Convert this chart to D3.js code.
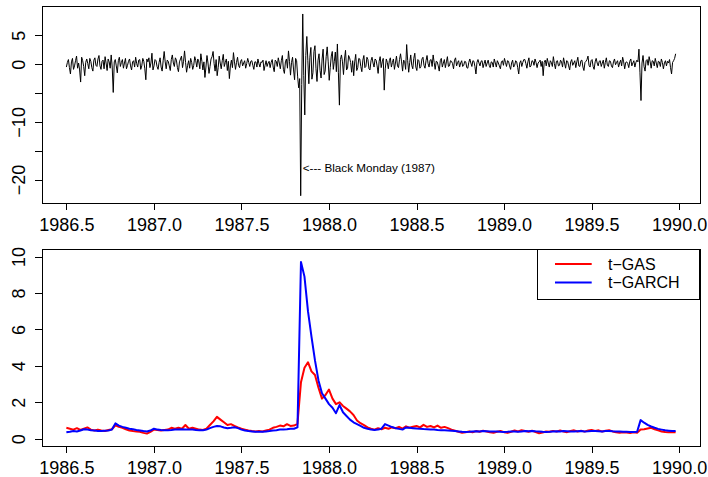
<!DOCTYPE html>
<html lang="en">
<head>
<meta charset="UTF-8">
<title>Returns and filtered volatility</title>
<style>
  body { margin: 0; background: #fff; }
  svg { display: block; font-family: "Liberation Sans", Arial, sans-serif; }
  .box { fill: none; stroke: #000; stroke-width: 1; shape-rendering: crispEdges; }
  .axis line { stroke: #000; shape-rendering: crispEdges; }
  .axis text { fill: #000; }
</style>
</head>
<body>
<svg id="chart" width="708" height="477"></svg>
<script src="https://d3js.org/d3.v7.min.js"></script>
<script>
// sample covers 1986.5 .. 1989.98, values evenly spaced in time
const startYear = 1986.5;
const endYear = 1989.98;

const yearTicks = [1986.5, 1987.0, 1987.5, 1988.0, 1988.5, 1989.0, 1989.5, 1990.0];
const yearLabels = ["1986.5", "1987.0", "1987.5", "1988.0", "1988.5", "1989.0", "1989.5", "1990.0"];
const returnTicks = [-20, -15, -10, -5, 0, 5];
const returnLabels = ["\u221220", "", "\u221210", "", "0", "5"];
const volTicks = [0, 2, 4, 6, 8, 10];
const volLimits = [0, 10];
const seriesNames = ["t\u2212GAS", "t\u2212GARCH"];
const seriesColors = ["#ff0000", "#0000ff"];

// daily returns (%)
const returns = [
  -0.5, 0.3, 0.8, -0.6, -1.7, 0.4, 1.0, -0.9, -0.3, 0.6, 1.4, -0.7, 0.2, -1.0, -3.1, 1.2, 0.6, -0.4, -2.0, 0.3, 0.9, 0.1, -0.8, 1.0, 0.5,
  -0.6, -1.2, 0.7, 1.1, -0.2, -0.4, 0.9, 1.5, -0.3, -0.9, 0.5, 0.7, -0.8, 1.3, 0.2, -1.1, 0.9, 0.4, -0.7, 1.6, -0.5, -4.9, 0.4, 0.8, -0.3,
  -1.5, 0.6, 1.2, -0.4, 0.3, 0.8, -0.7, 0.2, 1.0, -0.8, -0.2, 0.5, 0.9, -0.3, -1.0, 0.4, 0.6, -0.5, 1.2, 0.1, -0.5, 0.7, 0.8, -0.9, -0.3,
  1.0, 0.5, -0.8, -2.7, 0.9, 0.4, 1.1, -0.6, 0.2, 1.9, -1.0, -0.3, 0.8, 0.6, -0.4, -0.9, 0.3, 1.1, -0.5, -1.2, 0.6, 2.2, 0.4, -0.8, 0.7,
  0.5, -0.3, -1.1, 0.8, 1.6, 0.2, -0.4, 1.1, 0.7, -0.6, -1.3, 0.4, 0.9, 1.4, -0.6, 0.5, 2.3, 0.3, -1.4, -0.2, 0.6, -0.7, 1.0, 0.3, -0.9,
  -0.2, 1.3, 0.6, -0.5, 0.9, 0.4, -0.8, 1.8, 0.5, -1.0, 0.4, -2.3, -0.5, 1.5, 0.2, -1.6, -0.4, 0.9, 1.3, 2.2, 0.1, -1.2, 0.8, -2.0, -0.6,
  1.4, 0.2, -0.8, 0.6, 1.7, -0.4, 0.3, 0.9, -1.1, 0.5, -2.5, -0.3, 0.7, -0.6, 2.0, 0.4, -0.9, 0.3, 1.2, -0.2, -0.6, 0.5, 0.8, -0.3, 0.2,
  0.6, -0.7, 0.1, 1.0, 0.3, -0.4, 0.5, 0.6, -0.2, -0.9, 0.4, 0.4, -0.5, 0.9, 0.1, -0.5, 0.4, 0.3, 0.7, -1.1, -0.2, 0.6, -0.4, 0.2, 0.5,
  -0.6, 0.3, 0.8, -0.5, -1.3, 0.7, 0.5, -0.4, 1.1, 0.2, -0.8, 0.6, 1.5, -0.9, -1.6, 0.4, 0.9, -0.7, 2.3, 0.5, -1.9, 0.3, 1.2, -1.0, -2.7,
  1.0, 0.6, -2.2, -4.1, -2.5, -22.8, -3.5, 8.7, -2.0, -8.8, 1.5, 4.8, 0.6, -3.4, 1.2, 2.9, -2.6, -1.5, 2.2, 3.2, -0.8, -3.0, 0.7, 1.8, -1.1,
  -2.4, 0.9, 2.6, -1.8, -1.2, 1.3, 3.0, 0.4, -2.8, -0.6, 1.4, 2.2, -0.9, 0.5, 2.1, -1.3, 3.5, -1.5, -7.1, 0.8, 1.6, 0.4, -1.8, 0.9, 2.4,
  -1.0, -0.7, 1.5, 1.1, 0.3, -1.4, 0.6, -2.0, 0.4, 1.7, -1.1, -0.6, 1.0, 0.9, -0.4, -1.3, 0.7, 1.5, -0.6, -0.4, 1.2, 0.8, -0.8, -1.0, 0.6,
  1.2, 0.2, -0.5, 0.9, 0.7, -0.3, -1.6, 0.5, 1.3, -0.6, 0.4, 1.0, -4.5, -0.8, 0.9, 0.3, -0.8, 0.6, 1.1, -0.5, 0.3, 0.9, -0.9, 0.2, 1.4,
  -0.3, -0.6, 0.8, 1.8, 0.4, -1.2, 0.7, 0.5, -0.9, 3.4, 0.6, -1.4, 0.3, 1.6, -0.2, -0.8, 1.0, 1.9, -0.5, -1.1, 0.8, 0.6, -0.7, -0.4, 0.9,
  1.2, -0.2, -0.7, 0.6, 1.5, 0.1, -0.5, 0.7, 0.8, -0.4, 1.6, 0.3, -0.9, 0.5, 0.4, -0.3, -1.2, 0.6, 1.0, -0.5, 0.2, 0.8, -0.6, 0.4, 1.3,
  -0.4, -0.3, 0.6, 0.5, 0.1, -0.8, 0.7, 1.1, -0.3, 0.3, 0.6, -0.5, 0.2, 0.6, -0.4, -0.2, 0.5, 0.4, -0.6, -0.7, 0.3, 0.9, 0.2, -0.4, 0.6,
  0.5, -0.4, -1.7, 0.3, 0.8, 0.2, -0.3, 0.5, 0.6, -0.6, 0.1, 0.7, -0.4, 0.2, 0.7, -0.2, -0.6, 0.4, 0.3, -0.5, 0.9, 0.2, -0.5, 0.6, 0.2,
  -0.3, -0.8, 0.4, 0.6, -0.2, 1.0, 0.3, -0.4, 0.6, 0.5, -0.3, -0.9, 0.2, 0.7, -0.5, -0.2, 0.6, 0.4, -0.6, -1.7, 0.2, 0.6, -0.4, 0.3, 0.8,
  0.8, 0.1, -0.7, 0.4, 1.1, -0.5, -0.3, 0.6, 0.5, -0.2, 0.9, 0.3, -0.6, 0.2, 0.4, 0.7, -0.4, 0.5, -2.0, 0.3, 0.7, -0.3, 1.0, 0.2, -0.5,
  0.6, 0.3, -0.4, 1.3, 0.1, -0.8, 0.5, 0.6, -0.3, -0.2, 0.7, 0.4, -0.5, 1.1, 0.2, -0.7, 0.6, 0.5, -0.3, -1.0, 0.4, 0.8, -0.2, 0.2, 0.6,
  -0.6, 0.4, 1.2, -0.3, -0.4, 0.6, 0.7, -0.5, -1.1, 0.3, 0.5, 0.8, 1.4, -0.2, -0.5, 0.6, 0.8, -0.4, -0.9, 0.4, 1.0, 0.2, -0.3, 0.5, 0.6,
  -0.4, 0.2, 0.7, -0.7, 0.3, 1.1, -0.2, -0.4, 0.6, 0.5, -0.3, -0.6, 0.4, 0.9, -0.1, 0.3, 0.6, -0.5, 0.2, 0.7, -0.3, 1.2, 0.4, -0.8, 0.3,
  0.4, 0.1, -0.6, 0.5, 0.9, -0.3, 0.2, 0.6, -0.5, 0.3, 0.7, 0.4, 2.6, -1.5, -6.3, 0.2, 1.5, -0.4, -1.2, 0.6, 0.8, -0.2, 1.3, 0.4, -0.7,
  0.6, 0.5, -0.3, 1.0, 0.2, -0.6, 0.5, 0.4, -0.4, 0.9, 0.3, -0.8, 0.2, 0.6, -0.3, 0.5, 0.2, 0.8, -0.6, -1.7, 0.3, 0.6, 1.0, 1.8
];

// filtered volatility, t-GAS
const gasVol = [
  0.6, 0.55, 0.5, 0.58, 0.48, 0.55, 0.62, 0.5, 0.45, 0.5, 0.45, 0.42, 0.48, 0.52,
  0.74, 0.65, 0.6, 0.52, 0.45, 0.42, 0.4, 0.38, 0.32, 0.28, 0.38,
  0.5, 0.48, 0.45, 0.48, 0.5, 0.6, 0.55, 0.6, 0.55, 0.75, 0.55, 0.6, 0.55, 0.5, 0.48, 0.55,
  0.75, 0.95, 1.2, 1.05, 0.9, 0.75, 0.8, 0.7, 0.62, 0.55, 0.5, 0.45, 0.42, 0.4, 0.42, 0.4, 0.45, 0.5, 0.6, 0.65, 0.72, 0.68, 0.8, 0.7, 0.72, 0.82,
  3.1, 3.9, 4.2, 3.7, 3.5, 2.8, 2.2, 2.4, 2.7, 2.2, 1.9, 2.0, 1.8, 1.65, 1.5, 1.3, 1.0, 0.85, 0.75, 0.62,
  0.55, 0.5, 0.58, 0.52, 0.6, 0.55, 0.62, 0.58, 0.65, 0.55,
  0.68, 0.6, 0.66, 0.7, 0.62, 0.76, 0.65, 0.7, 0.62, 0.72,
  0.6, 0.65, 0.58, 0.5, 0.44, 0.38, 0.33, 0.36, 0.4, 0.35,
  0.42, 0.38, 0.44, 0.4, 0.36, 0.33, 0.38, 0.42, 0.36, 0.32,
  0.38, 0.45, 0.4, 0.47, 0.42, 0.38, 0.44, 0.36, 0.3, 0.34,
  0.4, 0.38, 0.43, 0.39, 0.45, 0.4, 0.36, 0.42, 0.46, 0.4,
  0.44, 0.39, 0.45, 0.48, 0.42, 0.46, 0.4, 0.44, 0.47, 0.4,
  0.36, 0.33, 0.36, 0.34, 0.32, 0.35, 0.33, 0.5, 0.52, 0.56,
  0.6, 0.52, 0.46, 0.4, 0.37, 0.35, 0.37, 0.36
];

// filtered volatility, t-GARCH
const garchVol = [
  0.35, 0.38, 0.42, 0.4, 0.45, 0.52, 0.5, 0.47, 0.45, 0.43, 0.42, 0.44, 0.45, 0.5,
  0.84, 0.72, 0.65, 0.6, 0.55, 0.52, 0.48, 0.45, 0.42, 0.4, 0.45,
  0.55, 0.5, 0.48, 0.47, 0.47, 0.48, 0.5, 0.5, 0.52, 0.5, 0.5, 0.5, 0.48, 0.47, 0.46, 0.5,
  0.58, 0.65, 0.7, 0.68, 0.62, 0.58, 0.6, 0.63, 0.58, 0.5, 0.45, 0.42, 0.4, 0.38, 0.38, 0.38, 0.4, 0.42, 0.45, 0.47, 0.5, 0.5, 0.52, 0.55, 0.55, 0.62,
  9.7, 8.9, 7.0, 5.6, 4.3, 3.2, 2.5, 2.2, 1.9, 1.7, 1.4, 1.85, 1.45, 1.25, 1.05, 0.9, 0.8, 0.7, 0.6, 0.55,
  0.5, 0.48, 0.5, 0.55, 0.8, 0.72, 0.64, 0.58, 0.54, 0.5,
  0.62, 0.6, 0.58, 0.56, 0.55, 0.53, 0.52, 0.5, 0.5, 0.48,
  0.47, 0.46, 0.45, 0.44, 0.42, 0.4, 0.38, 0.37, 0.38, 0.4,
  0.41, 0.4, 0.42, 0.41, 0.4, 0.39, 0.4, 0.38, 0.37, 0.38,
  0.4, 0.39, 0.38, 0.4, 0.42, 0.41, 0.43, 0.41, 0.4, 0.38,
  0.37, 0.38, 0.4, 0.41, 0.4, 0.42, 0.41, 0.4, 0.39, 0.41,
  0.42, 0.4, 0.41, 0.43, 0.42, 0.41, 0.4, 0.42, 0.43, 0.41,
  0.4, 0.39, 0.38, 0.38, 0.37, 0.37, 0.38, 1.02, 0.88, 0.76,
  0.67, 0.6, 0.54, 0.5, 0.46, 0.44, 0.42, 0.42
];

const svg = d3.select("#chart");
const fontSize = 18;

// R style axis limits: data range plus 4% on each side
function padded([a, b]) {
  const p = (b - a) * 0.04;
  return [a - p, b + p];
}
const timesFor = arr => arr.map((_, i) => startYear + i * (endYear - startYear) / (arr.length - 1));

const topBox = { left: 42, right: 700, top: 6.7, bottom: 203 };
const botBox = { left: 42, right: 700, top: 249.3, bottom: 446 };

const x = d3.scaleLinear().domain(padded([startYear, endYear])).range([topBox.left, topBox.right]);
const yTop = d3.scaleLinear().domain(padded(d3.extent(returns))).range([topBox.bottom, topBox.top]);
const yBot = d3.scaleLinear().domain(padded(volLimits)).range([botBox.bottom, botBox.top]);

function xAxis(box) {
  const g = svg.append("g")
    .attr("class", "axis")
    .attr("transform", `translate(0,${box.bottom})`)
    .call(d3.axisBottom(x).tickValues(yearTicks).tickFormat((d, i) => yearLabels[i]).tickSize(7).tickPadding(8.5));
  g.select(".domain").remove();
  g.append("line")
    .attr("x1", x(yearTicks[0])).attr("x2", x(yearTicks[yearTicks.length - 1]))
    .attr("stroke", "#000");
  g.attr("font-size", fontSize).attr("font-family", null);
}

function yAxis(box, scale, ticks, labels) {
  const g = svg.append("g")
    .attr("class", "axis")
    .attr("transform", `translate(${box.left},0)`)
    .call(d3.axisLeft(scale).tickValues(ticks).tickFormat((d, i) => labels[i]).tickSize(7));
  g.select(".domain").remove();
  g.attr("font-size", fontSize).attr("font-family", null);
  g.selectAll(".tick text")
    .attr("x", null).attr("dy", null)
    .attr("text-anchor", "middle")
    .attr("transform", "translate(-17,0) rotate(-90)");
}

// ---- top panel: returns
const retTimes = timesFor(returns);
svg.append("path")
  .datum(returns)
  .attr("fill", "none")
  .attr("stroke", "#000")
  .attr("stroke-width", 1)
  .attr("d", d3.line().x((d, i) => x(retTimes[i])).y(d => yTop(d)));

const crashIdx = d3.minIndex(returns);
svg.append("text")
  .attr("x", x(retTimes[crashIdx]) + 2)
  .attr("y", yTop(-17.9))
  .attr("dy", "0.35em")
  .attr("font-size", 11.7)
  .text("<--- Black Monday (1987)");

svg.append("rect").attr("class", "box")
  .attr("x", topBox.left).attr("y", topBox.top)
  .attr("width", topBox.right - topBox.left).attr("height", topBox.bottom - topBox.top);
xAxis(topBox);
yAxis(topBox, yTop, returnTicks, returnLabels);

// ---- bottom panel: volatility
const volTimes = timesFor(gasVol);
[gasVol, garchVol].forEach((series, k) => {
  svg.append("path")
    .datum(series)
    .attr("fill", "none")
    .attr("stroke", seriesColors[k])
    .attr("stroke-width", 2)
    .attr("stroke-linejoin", "round")
    .attr("d", d3.line().x((d, i) => x(volTimes[i])).y(d => yBot(d)));
});

svg.append("rect").attr("class", "box")
  .attr("x", botBox.left).attr("y", botBox.top)
  .attr("width", botBox.right - botBox.left).attr("height", botBox.bottom - botBox.top);
xAxis(botBox);
yAxis(botBox, yBot, volTicks, volTicks.map(String));

// legend, top right corner of the lower panel
const lgW = 162.7, lgH = 49.7;
const legend = svg.append("g")
  .attr("transform", `translate(${botBox.right - lgW},${botBox.top})`);
legend.append("rect").attr("class", "box")
  .attr("width", lgW).attr("height", lgH).attr("fill", "#fff");
seriesNames.forEach((name, k) => {
  const ly = 14.8 + k * 18.4;
  legend.append("line")
    .attr("x1", 17.7).attr("x2", 54.4)
    .attr("y1", ly).attr("y2", ly)
    .attr("stroke", seriesColors[k]).attr("stroke-width", 2);
  legend.append("text")
    .attr("x", 70.7).attr("y", ly).attr("dy", "0.35em")
    .attr("font-size", 16)
    .text(name);
});
</script>
</body>
</html>
